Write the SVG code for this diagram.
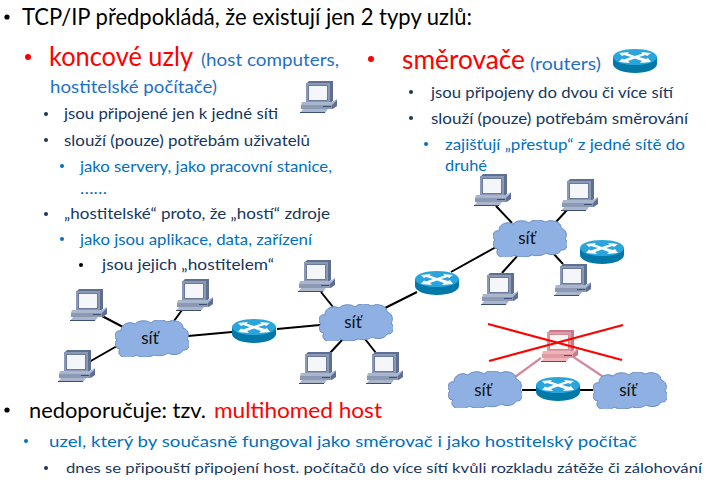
<svg xmlns="http://www.w3.org/2000/svg" xmlns:xlink="http://www.w3.org/1999/xlink" width="707" height="483" viewBox="0 0 707 483">
<style>
text{font-family:"Lato","Liberation Sans",sans-serif}
.k{fill:#000}.r{fill:#ff0000}.b{fill:#1f6fc6}.n{fill:#17375e}.m{fill:#0070c0}
.s28{font-size:26px}.s24{font-size:23px}.s19{font-size:18px}.s21{font-size:21px}
.s16{font-size:16px}.s15{font-size:14px}
.lbl{font-size:17px;fill:#111;text-anchor:middle}
.ln{stroke:#000;stroke-width:2;fill:none}
.pk{stroke:#d28a9c;stroke-width:2.2;fill:none}
.x{stroke:#ff0000;stroke-width:2.2;fill:none}
.cl{fill:#8eb0e3;stroke:#6b8fc4;stroke-width:1}
.c1{fill:var(--d,#5f6f92)}.c2{fill:var(--l,#aab6cc)}.c3{fill:var(--w,#f4f6fa)}.c4{fill:var(--e,#3f4f74)}.c5{fill:var(--m,#8b99b5)}.c6{fill:var(--f,#6a7a9c)}
</style>
<defs>
<symbol id="pc" viewBox="0 0 37 32" width="37" height="32">
<path class="c1" d="M6 3 9 0H33V19H29L6 22Z"/>
<rect class="c5" x="6" y="2" width="24" height="20"/>
<rect class="c6" x="8" y="4" width="20" height="16"/>
<rect class="c3" x="9" y="5" width="18" height="14"/>
<path class="c1" d="M30 2 33 0V20L30 22Z"/>
<path class="c2" d="M2 21H32L37 18V25L33 28H1V24Z"/>
<path class="c5" d="M1 24H32V28H1Z"/>
<path class="c1" d="M32 24 37 19V25L32 28Z"/>
<rect class="c4" x="23" y="25" width="8" height="1"/>
<path class="c2" d="M3 28H28L25 32H0Z"/>
<path class="c4" d="M0 31H25V32H0Z"/>
</symbol>
<symbol id="rt" viewBox="0 0 44 24" width="44" height="24">
<path fill="#0078a8" d="M0 8V15C0 20 10 24 22 24S44 20 44 15V8Z"/>
<ellipse cx="22" cy="8" rx="22" ry="8" fill="#2aa5dc"/>
<path fill="#fff" d="M6 4 16 3 14.500 4.500 22 7 29.500 4.500 28 3 38 4 34 7 32.500 6 26 8 33 10 35 9 38 13 27 14 29 12 22 9.500 15 12 17 14 6 13 9 9.500 11 10.500 18 8 11 6 9 7Z"/>
</symbol>
<symbol id="cloud" viewBox="0 0 74 37" width="74" height="37">
<path class="cl" d="M6 11A9 8 0 0 1 20 4A10 7 0 0 1 36 3A10 7 0 0 1 52 2A10 7 0 0 1 68 8A7 7 0 0 1 72 19A6 6 0 0 1 68 30A9 6 0 0 1 53 33A10 5 0 0 1 39 35A11 5 0 0 1 21 35A9 6 0 0 1 5 29A5 5 0 0 1 2 20A5 5 0 0 1 6 11Z"/>
</symbol>
</defs>

<g id="text">
<circle cx="7" cy="17" r="2.600" class="k"/>
<text x="22" y="25" class="k s24" textLength="450" lengthAdjust="spacingAndGlyphs">TCP/IP předpokládá, že existují jen 2 typy uzlů:</text>
<circle cx="28" cy="57" r="3" class="r"/>
<text x="49" y="66" class="r s28" textLength="144" lengthAdjust="spacingAndGlyphs">koncové uzly</text>
<text x="201" y="66" class="b s19" textLength="138" lengthAdjust="spacingAndGlyphs">(host computers,</text>
<text x="50" y="93" class="b s19" textLength="167" lengthAdjust="spacingAndGlyphs">hostitelské počítače)</text>
<circle cx="46" cy="114" r="2" class="n"/>
<text x="64" y="119" class="n s16" textLength="214" lengthAdjust="spacingAndGlyphs">jsou připojené jen k jedné síti</text>
<circle cx="46" cy="140" r="2" class="n"/>
<text x="64" y="146" class="n s16" textLength="246" lengthAdjust="spacingAndGlyphs">slouží (pouze) potřebám uživatelů</text>
<circle cx="62" cy="166" r="2" class="m"/>
<text x="80" y="172" class="m s16" textLength="252" lengthAdjust="spacingAndGlyphs">jako servery, jako pracovní stanice,</text>
<text x="80" y="194" class="m s16" textLength="27" lengthAdjust="spacingAndGlyphs">……</text>
<circle cx="46" cy="214" r="2" class="n"/>
<text x="64" y="219" class="n s16" textLength="266" lengthAdjust="spacingAndGlyphs">„hostitelské“ proto, že „hostí“ zdroje</text>
<circle cx="62" cy="239" r="2" class="m"/>
<text x="80" y="245" class="m s16" textLength="232" lengthAdjust="spacingAndGlyphs">jako jsou aplikace, data, zařízení</text>
<circle cx="81" cy="265" r="2" class="k"/>
<text x="102" y="270" class="n s16" textLength="172" lengthAdjust="spacingAndGlyphs">jsou jejich „hostitelem“</text>

<circle cx="371" cy="59" r="3" class="r"/>
<text x="402" y="69" class="r s28" textLength="123" lengthAdjust="spacingAndGlyphs">směrovače</text>
<text x="530" y="70" class="b s19" textLength="71" lengthAdjust="spacingAndGlyphs">(routers)</text>
<circle cx="411" cy="92" r="2" class="n"/>
<text x="431" y="98" class="n s16" textLength="242" lengthAdjust="spacingAndGlyphs">jsou připojeny do dvou či více sítí</text>
<circle cx="411" cy="118" r="2" class="n"/>
<text x="431" y="124" class="n s16" textLength="257" lengthAdjust="spacingAndGlyphs">slouží (pouze) potřebám směrování</text>
<circle cx="426" cy="144" r="2" class="m"/>
<text x="445" y="150" class="m s16" textLength="240" lengthAdjust="spacingAndGlyphs">zajišťují „přestup“ z jedné sítě do</text>
<text x="445" y="171" class="m s16" textLength="42" lengthAdjust="spacingAndGlyphs">druhé</text>

<circle cx="7" cy="410" r="2.600" class="k"/>
<text x="29" y="418" class="k s21" textLength="177" lengthAdjust="spacingAndGlyphs">nedoporučuje: tzv.</text>
<text x="214" y="418" class="r s21" textLength="168" lengthAdjust="spacingAndGlyphs">multihomed host</text>
<circle cx="26" cy="441" r="2" class="m"/>
<text x="49" y="447" class="m s16" textLength="588" lengthAdjust="spacingAndGlyphs">uzel, který by současně fungoval jako směrovač i jako hostitelský počítač</text>
<circle cx="46" cy="468" r="2" class="n"/>
<text x="66" y="473" class="n s15" textLength="636" lengthAdjust="spacingAndGlyphs">dnes se připouští připojení host. počítačů do více sítí kvůli rozkladu zátěže či zálohování</text>
</g>

<g id="connectors">
<line class="ln" x1="102" y1="316" x2="123" y2="327"/>
<line class="ln" x1="182" y1="310" x2="174" y2="321"/>
<line class="ln" x1="89" y1="362" x2="117" y2="346"/>
<line class="ln" x1="188" y1="336" x2="232" y2="332"/>
<line class="ln" x1="277" y1="329" x2="320" y2="325"/>
<line class="ln" x1="321" y1="292" x2="333" y2="307"/>
<line class="ln" x1="343" y1="339" x2="330" y2="353"/>
<line class="ln" x1="365" y1="339" x2="376" y2="353"/>
<line class="ln" x1="385" y1="308" x2="417" y2="292"/>
<line class="ln" x1="451" y1="272" x2="496" y2="247"/>
<line class="ln" x1="496" y1="206" x2="512" y2="223"/>
<line class="ln" x1="567" y1="210" x2="556" y2="222"/>
<line class="ln" x1="552" y1="252" x2="563" y2="264"/>
<line class="ln" x1="519" y1="254" x2="502" y2="273"/>
<line class="ln" x1="522" y1="390" x2="536" y2="390"/>
<line class="ln" x1="580" y1="390" x2="593" y2="390"/>
<line class="pk" x1="541" y1="358" x2="515" y2="377"/>
<line class="pk" x1="572" y1="356" x2="605" y2="378"/>
</g>

<g id="pc-legend"><use href="#pc" x="300" y="81"/></g>
<g id="router-legend"><use href="#rt" x="613" y="49"/></g>
<g id="pc1"><use href="#pc" x="70" y="289"/></g>
<g id="pc2"><use href="#pc" x="176" y="279"/></g>
<g id="pc3"><use href="#pc" x="58" y="350"/></g>
<g id="pc4"><use href="#pc" x="298" y="260"/></g>
<g id="pc5"><use href="#pc" x="299" y="352"/></g>
<g id="pc6"><use href="#pc" x="366" y="352"/></g>
<g id="pc7"><use href="#pc" x="474" y="174"/></g>
<g id="pc8"><use href="#pc" x="561" y="179"/></g>
<g id="pc9"><use href="#pc" x="554" y="264"/></g>
<g id="pc10"><use href="#pc" x="481" y="273"/></g>
<g id="pc-crossed" style="--d:#c87a88;--l:#eeb4b8;--w:#fdf3f3;--e:#a03040;--m:#e09aa4;--f:#d08a96"><use href="#pc" x="541" y="330"/></g>
<g id="router1"><use href="#rt" x="232" y="319"/></g>
<g id="router2"><use href="#rt" x="415" y="271"/></g>
<g id="router3"><use href="#rt" x="580" y="240"/></g>
<g id="router4"><use href="#rt" x="536" y="377"/></g>
<g id="cloud1"><use href="#cloud" x="115" y="320"/><text class="lbl" x="150" y="344">síť</text></g>
<g id="cloud2"><use href="#cloud" x="319" y="304"/><text class="lbl" x="353" y="328">síť</text></g>
<g id="cloud3"><use href="#cloud" x="493" y="220"/><text class="lbl" x="527" y="244">síť</text></g>
<g id="cloud4"><use href="#cloud" x="448" y="371"/><text class="lbl" x="483" y="396">síť</text></g>
<g id="cloud5"><use href="#cloud" x="593" y="372"/><text class="lbl" x="628" y="396">síť</text></g>
<g id="cross">
<line class="x" x1="488" y1="324" x2="622" y2="360"/>
<line class="x" x1="489" y1="361" x2="623" y2="325"/>
</g>
</svg>
